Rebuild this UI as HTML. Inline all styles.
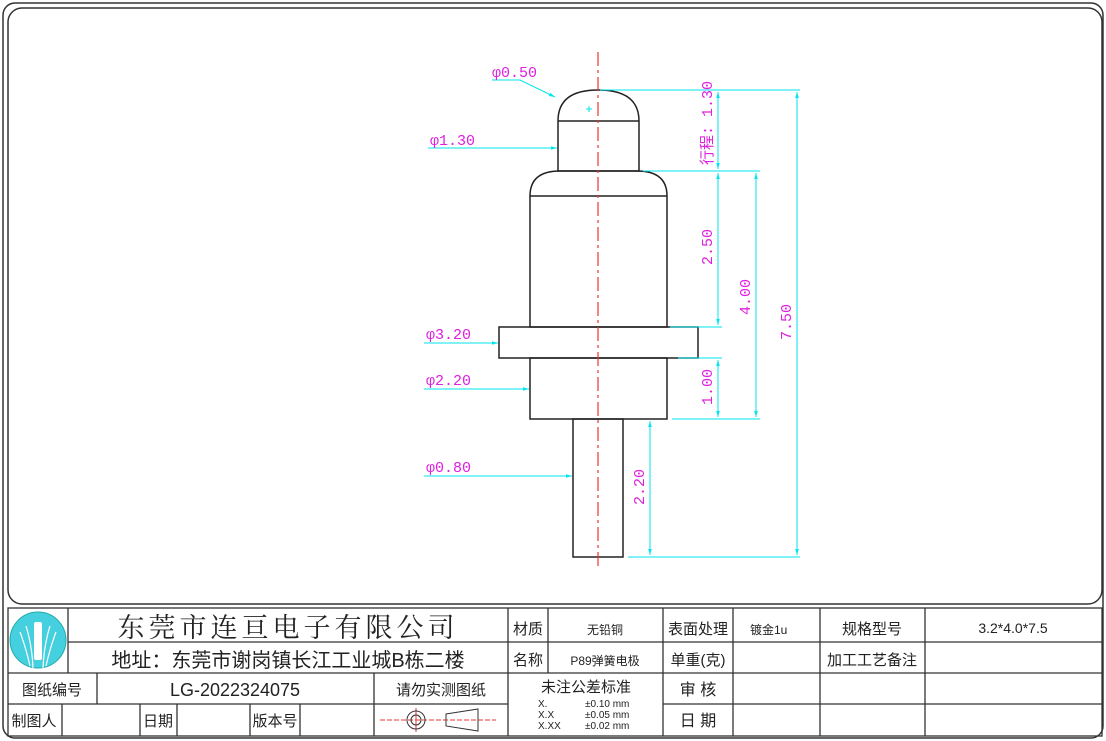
<!DOCTYPE html>
<html><head><meta charset="utf-8"><style>
html,body{margin:0;padding:0;background:#fff;}
svg{display:block;}
.c{stroke:#00e5ee;stroke-width:1;fill:none;}
.m{fill:#e020e0;font-family:"Liberation Mono","WenQuanYi Zen Hei",monospace;font-size:15px;}
.k{stroke:#222;stroke-width:1.5;fill:none;}
.t{font-family:"Liberation Sans","Noto Sans CJK SC",sans-serif;fill:#222;}
</style></head><body>
<svg width="1106" height="741" viewBox="0 0 1106 741" xmlns="http://www.w3.org/2000/svg">
<defs><marker id="a" viewBox="0 0 10 10" refX="10" refY="5" markerWidth="8" markerHeight="6" orient="auto-start-reverse"><path d="M0,2 L10,5 L0,8z" fill="#00e5ee"/></marker></defs>
<rect x="3" y="3" width="1100" height="735" rx="12" fill="none" stroke="#333" stroke-width="1.5"/>
<rect x="8" y="8" width="1094" height="596" rx="14" fill="none" stroke="#333" stroke-width="1.5"/>
<!-- part -->
<path class="k" d="M558,121 Q558,90 598,90 Q639,90 639,121 L639,171 L558,171 Z M558,121 L639,121"/>
<path class="k" d="M530,196 Q530,171 560,171 L637,171 Q667,171 667,196 L667,327 L530,327 Z M530,196 L667,196"/>
<rect class="k" x="499" y="327" width="199" height="31"/>
<rect class="k" x="530" y="358" width="137" height="61"/>
<rect class="k" x="573" y="419" width="50" height="138"/>
<line x1="598" y1="52" x2="598" y2="570" stroke="#e33" stroke-width="1.2" stroke-dasharray="14,4,3,4"/>
<path class="c" d="M586,109 h6 M589,106 v6"/>
<!-- left leaders -->
<path class="c" d="M492,80 L520,80 L555,97" marker-end="url(#a)"/>
<text class="m" x="492" y="77">φ0.50</text>
<line class="c" x1="428" y1="148" x2="557" y2="148" marker-end="url(#a)"/><text class="m" x="430" y="145">φ1.30</text>
<line class="c" x1="424" y1="343" x2="498" y2="343" marker-end="url(#a)"/><text class="m" x="426" y="339">φ3.20</text>
<line class="c" x1="424" y1="389" x2="529" y2="389" marker-end="url(#a)"/><text class="m" x="426" y="385">φ2.20</text>
<line class="c" x1="424" y1="476" x2="572" y2="476" marker-end="url(#a)"/><text class="m" x="426" y="472">φ0.80</text>
<!-- extension lines -->
<path class="c" d="M600,90 H800 M643,171 H760 M670,327 H722 M678,358 H722 M672,419 H760 M628,557 H800"/>
<line class="c" x1="718" y1="92" x2="718" y2="169" marker-start="url(#a)" marker-end="url(#a)"/>
<line class="c" x1="718" y1="173" x2="718" y2="325" marker-start="url(#a)" marker-end="url(#a)"/>
<line class="c" x1="718" y1="360" x2="718" y2="417" marker-start="url(#a)" marker-end="url(#a)"/>
<line class="c" x1="756" y1="173" x2="756" y2="417" marker-start="url(#a)" marker-end="url(#a)"/>
<line class="c" x1="797" y1="92" x2="797" y2="555" marker-start="url(#a)" marker-end="url(#a)"/>
<line class="c" x1="650" y1="421" x2="650" y2="555" marker-start="url(#a)" marker-end="url(#a)"/>
<text class="m" transform="translate(712,165) rotate(-90)">行程: 1.30</text>
<text class="m" transform="translate(712,265) rotate(-90)">2.50</text>
<text class="m" transform="translate(712,405) rotate(-90)">1.00</text>
<text class="m" transform="translate(750,315) rotate(-90)">4.00</text>
<text class="m" transform="translate(791,340) rotate(-90)">7.50</text>
<text class="m" transform="translate(644,505) rotate(-90)">2.20</text>
<!-- table -->
<g stroke="#333" stroke-width="1.3" fill="none">
<rect x="8" y="608" width="1094" height="128"/>
<path d="M8,673 H508 M8,704 H508 M68,642 H1102 M508,673 H1102 M663,704 H1102"/>
<path d="M68,608 V673 M508,608 V736 M548,608 V673 M663,608 V736 M733,608 V736 M820,608 V736 M925,608 V736"/>
<path d="M97,673 V704 M374,673 V736 M62,704 V736 M140,704 V736 M177,704 V736 M250,704 V736 M300,704 V736"/>
</g>
<circle cx="38" cy="640" r="28" fill="#45d0e0" stroke="#2aa" stroke-width="1"/>
<rect x="34" y="622" width="8" height="38" rx="2" fill="#fff"/>
<path d="M20,632 Q26,648 30,666 M26,626 Q32,645 33,668 M56,632 Q50,648 46,666 M50,626 Q44,645 43,668" stroke="#fff" stroke-width="1.2" fill="none"/>
<g class="t">
<text x="288" y="637" font-size="27" text-anchor="middle" letter-spacing="4" font-family="Noto Serif CJK SC,serif">东莞市连亘电子有限公司</text>
<text x="288" y="667" font-size="20" text-anchor="middle">地址：东莞市谢岗镇长江工业城B栋二楼</text>
<text x="52" y="695" font-size="15" text-anchor="middle">图纸编号</text>
<text x="235" y="696" font-size="18" text-anchor="middle">LG-2022324075</text>
<text x="441" y="695" font-size="15" text-anchor="middle">请勿实测图纸</text>
<text x="34" y="726" font-size="15" text-anchor="middle">制图人</text>
<text x="158" y="726" font-size="15" text-anchor="middle">日期</text>
<text x="275" y="726" font-size="15" text-anchor="middle">版本号</text>
<text x="528" y="634" font-size="15" text-anchor="middle">材质</text>
<text x="528" y="665" font-size="15" text-anchor="middle">名称</text>
<text x="605" y="634" font-size="12" text-anchor="middle">无铅铜</text>
<text x="605" y="665" font-size="12" text-anchor="middle">P89弹簧电极</text>
<text x="698" y="634" font-size="15" text-anchor="middle">表面处理</text>
<text x="698" y="665" font-size="15" text-anchor="middle">单重(克)</text>
<text x="750" y="634" font-size="12">镀金1u</text>
<text x="872" y="634" font-size="15" text-anchor="middle">规格型号</text>
<text x="872" y="665" font-size="15" text-anchor="middle">加工工艺备注</text>
<text x="1013" y="633" font-size="14" text-anchor="middle">3.2*4.0*7.5</text>
<text x="586" y="692" font-size="15" text-anchor="middle">未注公差标准</text>
<text x="538" y="707" font-size="10">X.</text><text x="585" y="707" font-size="10">±0.10  mm</text>
<text x="538" y="718" font-size="10">X.X</text><text x="585" y="718" font-size="10">±0.05  mm</text>
<text x="538" y="729" font-size="10">X.XX</text><text x="585" y="729" font-size="10">±0.02  mm</text>
<text x="698" y="695" font-size="16" text-anchor="middle">审 核</text>
<text x="698" y="726" font-size="16" text-anchor="middle">日 期</text>
</g>
<line x1="380" y1="720" x2="496" y2="720" stroke="#e33" stroke-dasharray="5,2"/>
<line x1="416" y1="708" x2="416" y2="732" stroke="#e33"/>
<circle cx="416" cy="720" r="9" fill="none" stroke="#333"/><circle cx="416" cy="720" r="5" fill="none" stroke="#333"/>
<path d="M446,714 L478,709 L478,731 L446,726 Z" fill="none" stroke="#333"/>
</svg>
</body></html>
